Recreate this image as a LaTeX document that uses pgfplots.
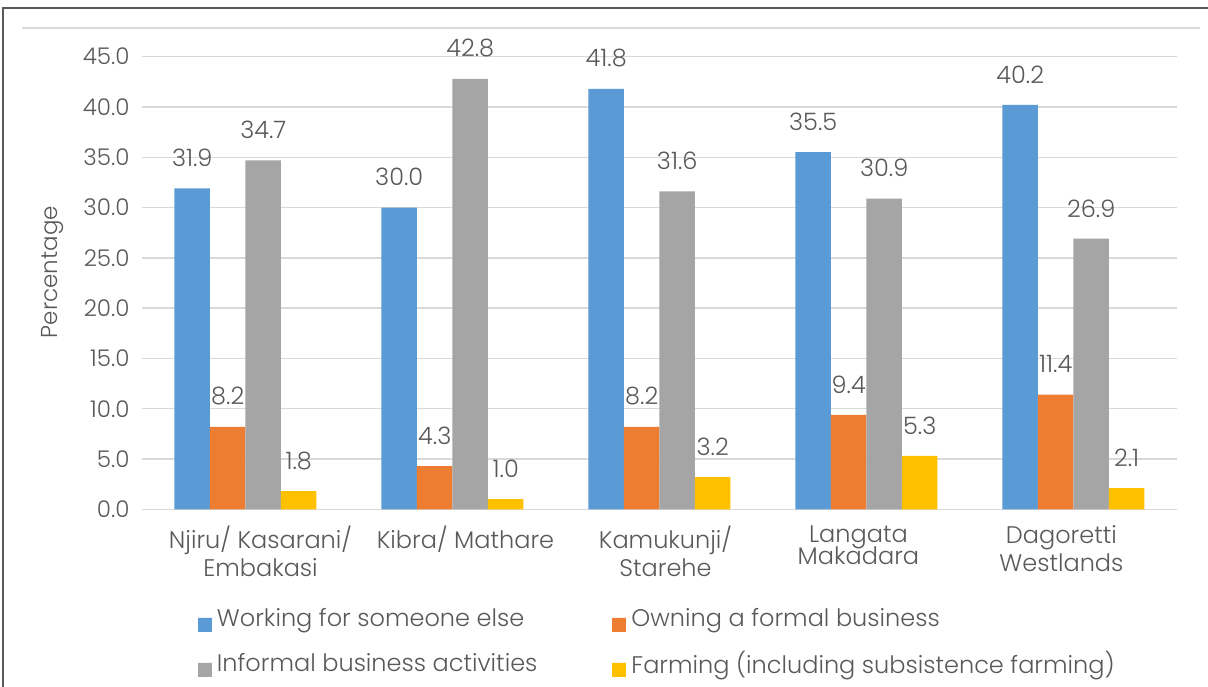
\documentclass[border=0pt]{standalone}
\usepackage{fontspec}
\setmainfont{Poppins}[UprightFont=* Light]
\usepackage{pgfplots}
\pgfplotsset{compat=1.18}
\definecolor{cblue}{HTML}{5B9BD5}
\definecolor{corange}{HTML}{ED7D31}
\definecolor{cgray}{HTML}{A5A5A5}
\definecolor{cgold}{HTML}{FFC000}
\definecolor{txt}{HTML}{595959}
\definecolor{gridc}{HTML}{D9D9D9}
\definecolor{framec}{HTML}{595959}
\begin{document}
\begin{tikzpicture}
\path[use as bounding box] (0,0) rectangle (1208pt,687pt);
\fill[white] (0,0) rectangle (1208pt,687pt);
\draw[framec, line width=1.5pt] (3pt,0) -- (3pt,679pt) -- (1208pt,679pt);
\draw[gridc, line width=1.2pt] (22pt,659pt) -- (1200pt,659pt);
\begin{axis}[
  at={(142pt,177.7pt)}, anchor=south west,
  scale only axis, width=1035pt, height=452.6pt,
  ybar=0pt, bar width=35.5pt,
  xmin=-0.5, xmax=4.5, ymin=0, ymax=45,
  axis line style={draw=none},
  ytick={0,5,...,45},
  xmajorgrids=false, ymajorgrids=true,
  grid style={draw=gridc, line width=1.5pt},
  major tick length=0pt,
  xtick style={draw=none}, ytick style={draw=none},
  xtick={0,1,2,3,4},
  xticklabels={{\hspace*{30pt}Njiru/ Kasarani/\\\hspace*{30pt}Embakasi},{\hspace*{26pt}Kibra/ Mathare},{\hspace*{12pt}Kamukunji/\\\hspace*{12pt}Starehe},{Langata\hspace*{16pt}\\[-6pt]Makadara\hspace*{16pt}},{Dagoretti\hspace*{24pt}\\Westlands\hspace*{24pt}}},
  xticklabel style={align=center, font=\fontsize{24}{28}\selectfont, text=txt, yshift=-13pt},
  yticklabel style={font=\fontsize{23}{27}\selectfont, text=txt, xshift=-9pt,
    /pgf/number format/.cd, fixed, fixed zerofill, precision=1, assume math mode=true},
  ylabel={Percentage},
  every axis y label/.style={at={(axis description cs:-0.0860,0.524)}, rotate=90, anchor=center, font=\fontsize{23}{27}\selectfont, text=txt},
  nodes near coords={\pgfmathprintnumber[fixed, fixed zerofill, precision=1, assume math mode=true]{\pgfplotspointmeta}},
  nodes near coords style={font=\fontsize{24}{28}\selectfont, text=txt, yshift=18pt},
  legend columns=2,
  legend cell align=left,
  legend style={draw=none, fill=none, font=\fontsize{24}{28}\selectfont, text=txt,
    at={(axis description cs:0.051,-0.209)}, anchor=north west,
    /tikz/every even column/.append style={column sep=73pt},
    row sep=17pt},
  legend image code/.code={\fill[#1] (0pt,-14pt) rectangle (14pt,0pt); \path (0pt,0pt) -- (17pt,0pt);},
]
\addplot[fill=cblue, draw=none] coordinates {(0,31.9) (1,30.0) (2,41.8) (3,35.5) (4,40.2)};
\addplot[fill=corange, draw=none] coordinates {(0,8.2) (1,4.3) (2,8.2) (3,9.4) (4,11.4)};
\addplot[fill=cgray, draw=none] coordinates {(0,34.7) (1,42.8) (2,31.6) (3,30.9) (4,26.9)};
\addplot[fill=cgold, draw=none] coordinates {(0,1.8) (1,1.0) (2,3.2) (3,5.3) (4,2.1)};
\legend{Working for someone else, Owning a formal business, Informal business activities, Farming (including subsistence farming)}
\end{axis}
\end{tikzpicture}
\end{document}
